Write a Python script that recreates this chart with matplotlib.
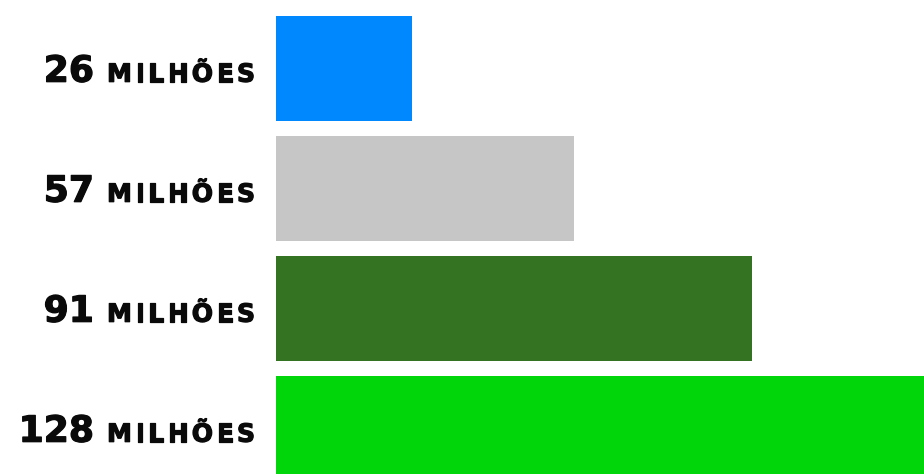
import matplotlib.pyplot as plt
import matplotlib.patheffects as pe

values = [26, 57, 91, 128]
numbers = ['26', '57', '91', '128']
unit = 'MILHÕES'
colors = ['#0088ff', '#c6c6c6', '#337321', '#00d60a']

fig = plt.figure(figsize=(9.24, 4.74), dpi=100)
ax = fig.add_axes([276 / 924, 0, 1 - 276 / 924, 1])

pos = list(range(len(values)))
ax.barh(pos, values, height=0.875, color=colors)
ax.set_xlim(0, 124)
ax.set_ylim(3.379, -0.571)
ax.axis('off')

ink = '#0a0a0a'
# thin outline so the bold face reads a bit heavier
heavy = [pe.withStroke(linewidth=0.9, foreground=ink)]
style = dict(ha='right', va='baseline', fontweight='bold',
             family='DejaVu Sans', color=ink, path_effects=heavy)

for i, num in enumerate(numbers):
    y = i + 0.11
    # unit word drawn letter by letter (right to left) for a little extra tracking
    prev = ax.annotate(unit[-1], xy=(0, y), xytext=(-21, 0),
                       textcoords='offset pixels', fontsize=18, **style)
    for ch in unit[-2::-1]:
        prev = ax.annotate(ch, xy=(0, y), xycoords=(prev, 'data'),
                           xytext=(-3.5, 0), textcoords='offset pixels',
                           fontsize=18, **style)
    ax.annotate(num, xy=(0, y), xycoords=(prev, 'data'),
                xytext=(-13, 0), textcoords='offset pixels',
                fontsize=26, **style)

fig.savefig('out.png', dpi=100)
